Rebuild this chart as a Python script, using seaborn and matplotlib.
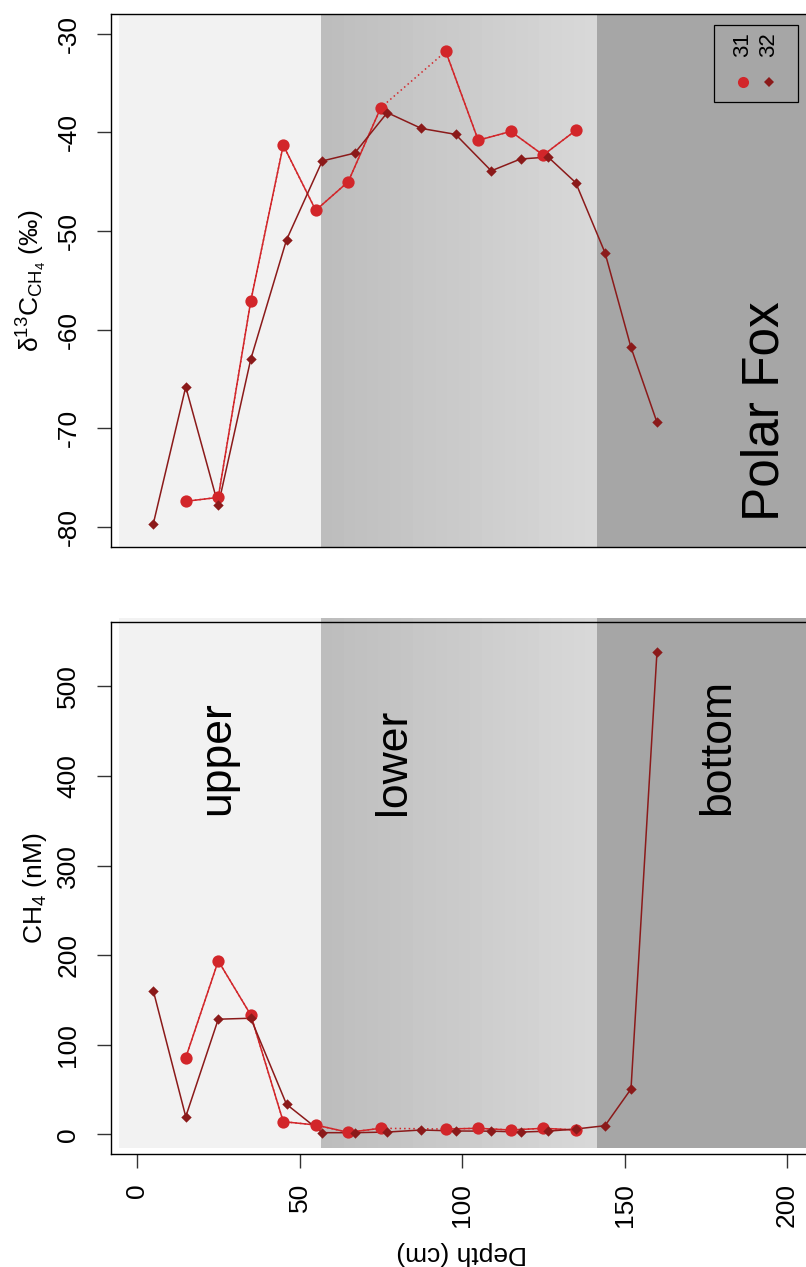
import numpy as np
import pandas as pd
import matplotlib
matplotlib.use("Agg")
import matplotlib.pyplot as plt
import seaborn as sns
from matplotlib.patches import Rectangle

sns.set_style("white")
plt.rcParams["font.family"] = ["Liberation Sans", "DejaVu Sans"]
plt.rcParams["mathtext.fontset"] = "custom"
plt.rcParams["mathtext.rm"] = "Liberation Sans"
plt.rcParams["mathtext.it"] = "Liberation Sans:italic"
for key in ["text.color", "axes.labelcolor", "xtick.color", "ytick.color"]:
    plt.rcParams[key] = "black"

# ---- profile data (Polar Fox site) ----
depth_31 = [15, 25, 35, 45, 55, 65, 75, 85, 95, 105, 115, 125, 135]
d13c_31 = [-77.4, -77.0, -57.1, -41.3, -47.9, -45.0, -37.5, np.nan, -31.8, -40.8, -39.9, -42.3, -39.8]
ch4_31 = [85.6, 193.6, 133.3, 14.1, 10.4, 2.2, 6.7, np.nan, 5.9, 6.7, 4.8, 6.7, 4.8]

depth_32 = [5, 15, 25, 35, 46, 57, 67, 77, 87.5, 98, 109, 118, 126.5, 135, 144, 152, 160]
d13c_32 = [-79.7, -65.8, -77.8, -63.0, -50.9, -42.9, -42.1, -38.0, -39.6, -40.2, -43.9,
           -42.7, -42.5, -45.1, -52.2, -61.8, -69.4]
ch4_32 = [160.5, 19.7, 128.5, 129.6, 33.5, 1.8, 1.8, 2.5, 4.8, 3.7, 3.5, 2.5, 3.5, 5.9,
          9.6, 50.6, 539.0]

zone_names = ["upper", "lower", "bottom"]
zone_edges = [-5.5, 56.5, 141.5, 215.0]
depth_ticks = [0, 50, 100, 150, 200]
d13c_ticks = [-30, -40, -50, -60, -70, -80]
ch4_ticks = [0, 100, 200, 300, 400, 500]
cores = ["31", "32"]

col_31 = "#D2262A"
col_32 = "#8B1A1A"

W, H = 806, 1267
fig = plt.figure(figsize=(W / 100, H / 100), dpi=100)

def px_axes(left, top, right, bottom):
    return fig.add_axes([left / W, 1 - bottom / H, (right - left) / W, (bottom - top) / H])

ax_top = px_axes(111, 14, 813, 546.7)
ax_bot = px_axes(111, 622, 813, 1154)

def draw_zones(ax, y0=None, y1=None):
    upper_c, bottom_c = "#F2F2F2", "#A6A6A6"
    lo, hi = zone_edges[1], zone_edges[2]
    n = 24
    xs = np.linspace(lo, hi, n + 1)
    greys = np.linspace(0.742, 0.848, n)
    spans = [(zone_edges[0], zone_edges[1], upper_c)]
    spans += [(xs[i], xs[i + 1], (g, g, g)) for i, g in enumerate(greys)]
    spans += [(zone_edges[2], zone_edges[3], bottom_c)]
    for a, b, c in spans:
        if y0 is None:
            ax.axvspan(a, b, color=c, lw=0, zorder=0)
        else:
            ax.add_patch(Rectangle((a, y0), b - a, y1 - y0, facecolor=c, lw=0,
                                   zorder=0, clip_on=False))

def draw_profile(ax, depth, vals, color, marker, size, dotted_gap):
    df = pd.DataFrame({"depth": depth, "val": vals})
    seg = df["val"].isna().cumsum()
    ok = df.dropna()
    if dotted_gap:
        sns.lineplot(data=ok, x="depth", y="val", estimator=None, sort=False,
                     color=color, lw=1.1, linestyle=(0, (1, 2)), ax=ax, zorder=2)
    sns.lineplot(data=ok, x="depth", y="val", units=seg[ok.index], estimator=None,
                 sort=False, color=color, lw=1.1, ax=ax, zorder=2)
    sns.scatterplot(data=ok, x="depth", y="val", marker=marker, s=size, color=color,
                    linewidth=0, ax=ax, zorder=3)

for ax, v31, v32 in [(ax_top, d13c_31, d13c_32), (ax_bot, ch4_31, ch4_32)]:
    draw_profile(ax, depth_31, v31, col_31, "o", 78, True)
    draw_profile(ax, depth_32, v32, col_32, "D", 28, False)

draw_zones(ax_top)
draw_zones(ax_bot, -15, 577)

for ax in (ax_top, ax_bot):
    ax.set_xlim(-8, 208)
    for s in ax.spines.values():
        s.set_color("black")
        s.set_linewidth(1.0)
        s.set_zorder(5)
    ax.tick_params(axis="y", left=True, length=10, width=1.0, color="#333333",
                   labelsize=19, pad=12, labelrotation=90)

ax_top.set_ylim(-82, -28)
ax_top.set_yticks(d13c_ticks)
ax_top.set_yticklabels([str(t) for t in d13c_ticks], rotation=90, va="center")
ax_top.set_xticks([])
ax_top.set_xlabel("")
ax_top.set_ylabel("δ$^{13}$C$_{\\mathrm{CH}_4}$ (‰)", fontsize=19)

ax_bot.set_ylim(-22, 572)
ax_bot.set_yticks(ch4_ticks)
ax_bot.set_yticklabels([str(t) for t in ch4_ticks], rotation=90, va="center")
ax_bot.set_xticks(depth_ticks)
ax_bot.set_xticklabels([str(t) for t in depth_ticks])
ax_bot.tick_params(axis="x", bottom=True, length=10, width=1.0, color="#333333",
                   labelsize=19, pad=11, labelrotation=90)
ax_bot.set_ylabel("CH$_4$ (nM)", fontsize=19)
ax_bot.set_xlabel("Depth (cm)", fontsize=19, rotation=180)

for ax in (ax_top, ax_bot):
    ax.yaxis.set_label_coords(-0.088, 0.5)
ax_bot.xaxis.set_label_coords(0.5, -0.186)
ax_bot.xaxis.label.set_va("center")

# zone names
zone_x = [24.9, 78.8, 178.8]
for name, x in zip(zone_names, zone_x):
    ax_bot.text(x, 357, name, rotation=90, ha="center", va="bottom", fontsize=32, zorder=4)

ax_top.text(193.2, -68.3, "Polar Fox", rotation=90, ha="center", va="center",
            fontsize=37, zorder=4)

# core legend
lx0, lx1 = (714 - 111) / 702, (798 - 111) / 702
ly0, ly1 = (546.7 - 102) / 532.7, (546.7 - 25) / 532.7
ax_top.add_patch(Rectangle((lx0, ly0), lx1 - lx0, ly1 - ly0, transform=ax_top.transAxes,
                           fill=False, edgecolor="black", lw=0.9, zorder=6))
leg_x = [(743 - 111) / 702, (769 - 111) / 702]
leg_style = [("o", col_31, 8), ("D", col_32, 5.2)]
for core, x, (m, c, ms) in zip(cores, leg_x, leg_style):
    ax_top.text(x, (546.7 - 45) / 532.7, core, rotation=90, ha="center", va="center",
                fontsize=16, transform=ax_top.transAxes, zorder=6)
    ax_top.plot([x], [(546.7 - 82) / 532.7], marker=m, ms=ms, color=c, mew=0,
                transform=ax_top.transAxes, zorder=6, clip_on=False)

fig.savefig("out.png", dpi=100)
